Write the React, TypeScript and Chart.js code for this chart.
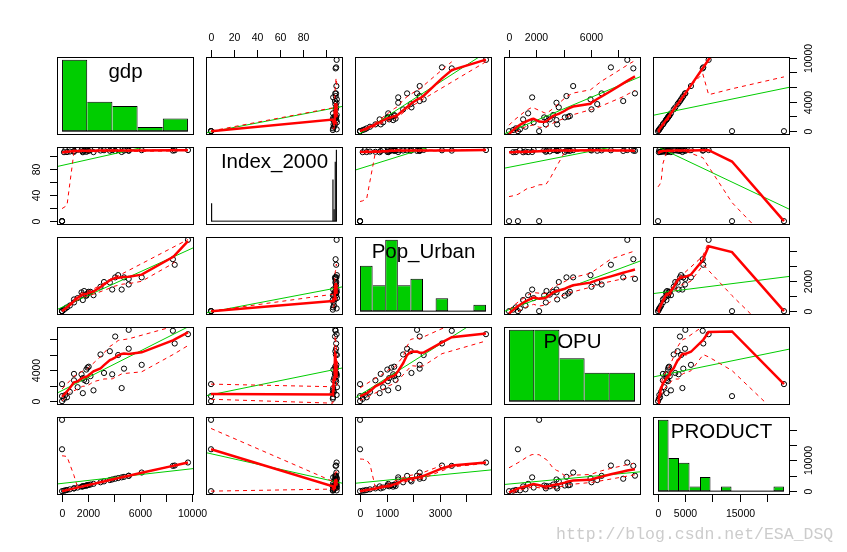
import React, { useEffect, useRef } from "react";
import { Chart, registerables } from "chart.js";

Chart.register(...registerables);

// ---------------- data: 34 observations ----------------
const varNames = ["gdp", "Index_2000", "Pop_Urban", "POPU", "PRODUCT"];

const gdp = [9690, 8670, 8530, 6130, 5130, 5130, 4770, 4590, 4320, 4090, 3860, 3680, 3230, 2960, 2420, 2190, 2050, 1960, 1870, 1870, 1700, 1600, 1600, 1500, 920, 920, 1200, 600, 380, 250, 150, 0, 0, 0];
const index2000 = [109.6, 109.2, 108.7, 109.4, 108.4, 109.1, 108.8, 106.6, 109.8, 108.2, 109.5, 108.5, 109.3, 108.9, 106.4, 109.7, 108.3, 108.95, 106.8, 109.2, 108.6, 107.5, 106.2, 109.4, 108.1, 106.9, 109.9, 107.3, 106.5, 109.6, 106.3, 0, 0, 0];
const popUrban = [4750, 3090, 3460, 2250, 2150, 1775, 2250, 1440, 2400, 2250, 1440, 1910, 1940, 1625, 1063, 1290, 1290, 1180, 1030, 1050, 1340, 1100, 740, 1250, 780, 580, 870, 375, 250, 180, 100, 0, 0, 0];
const popu = [8650, 7450, 9090, 4690, 9210, 6770, 4200, 1690, 5960, 8350, 3470, 6450, 3640, 6030, 1395, 3230, 4450, 4330, 4080, 2570, 2740, 2980, 1030, 3470, 3520, 2690, 1800, 1200, 500, 800, 300, 0, 650, 2200];
const product = [9300, 8320, 8210, 6050, 5020, 4960, 4640, 4480, 4240, 4030, 3790, 3600, 3170, 2880, 2370, 2150, 2020, 1910, 1830, 1820, 1660, 1570, 1550, 1460, 900, 890, 1170, 580, 370, 240, 150, 0, 13600, 23150];

// histogram breaks: [from, to, by]
const gdpBreaks = [0, 10000, 2000];
const indexBreaks = [0, 110, 1];
const popUrbanBreaks = [0, 5000, 500];
const popuBreaks = [0, 10000, 2000];
const productBreaks = [0, 24000, 2000];

// axis ticks and the labels R printed
const gdpTicks = [0, 2000, 4000, 6000, 8000, 10000];
const gdpXLabels = ["0", "2000", "", "6000", "", "10000"];
const gdpYLabels = ["0", "", "4000", "", "", "10000"];
const indexTicks = [0, 20, 40, 60, 80, 100];
const indexXLabels = ["0", "20", "40", "60", "80", ""];
const indexYLabels = ["0", "", "40", "", "80", ""];
const popUrbanTicks = [0, 1000, 2000, 3000, 4000];
const popUrbanXLabels = ["0", "1000", "", "3000", ""];
const popUrbanYLabels = ["0", "", "2000", "", ""];
const popuTicks = [0, 2000, 4000, 6000, 8000];
const popuXLabels = ["0", "2000", "", "6000", ""];
const popuYLabels = ["0", "", "4000", "", ""];
const productTicks = [0, 5000, 10000, 15000, 20000];
const productXLabels = ["0", "5000", "", "15000", ""];
const productYLabels = ["0", "", "10000", "", ""];

const VARS = [gdp, index2000, popUrban, popu, product];
const BREAKS = [gdpBreaks, indexBreaks, popUrbanBreaks, popuBreaks, productBreaks];
const TICKS = [gdpTicks, indexTicks, popUrbanTicks, popuTicks, productTicks];
const XLABELS = [gdpXLabels, indexXLabels, popUrbanXLabels, popuXLabels, productXLabels];
const YLABELS = [gdpYLabels, indexYLabels, popUrbanYLabels, popuYLabels, productYLabels];

// ---------------- layout / style ----------------
const PANEL_LEFT = [57, 206, 355, 504, 653];
const PANEL_TOP = [57, 147, 237, 327, 417];
const PW = 136;
const PH = 77;
const M = 45;
const GREEN = "#00CD00";
const RED = "#FF0000";
const TICK_FONT = "10.5px 'Liberation Sans', Arial, sans-serif";
const LABEL_FONT = "20.5px 'Liberation Sans', Arial, sans-serif";
const SMOOTH_DEGREE = 2;
const SPREAD_ITER = 1;

// ---------------- statistics ----------------
function padRange(lo: number, hi: number) {
  const d = hi - lo || 1;
  return [lo - 0.04 * d, hi + 0.04 * d];
}
function varRange(v: number[]) {
  return padRange(Math.min(...v), Math.max(...v));
}
function median(a: number[]) {
  const s = a.slice().sort((p, q) => p - q);
  const n = s.length;
  if (!n) return 0;
  return n % 2 ? s[(n - 1) / 2] : (s[n / 2 - 1] + s[n / 2]) / 2;
}

function solve(A: number[][], b: number[]): number[] | null {
  const n = b.length;
  const m = A.map((row, i) => row.concat([b[i]]));
  for (let c = 0; c < n; c++) {
    let p = c;
    for (let r = c + 1; r < n; r++) if (Math.abs(m[r][c]) > Math.abs(m[p][c])) p = r;
    if (Math.abs(m[p][c]) < 1e-9) return null;
    [m[c], m[p]] = [m[p], m[c]];
    for (let r = 0; r < n; r++) {
      if (r === c) continue;
      const f = m[r][c] / m[c][c];
      for (let k = c; k <= n; k++) m[r][k] -= f * m[c][k];
    }
  }
  return m.map((row, i) => row[n] / row[i]);
}

function localFit(xs: number[], ys: number[], w: number[], x0: number, h: number, degree: number): number {
  const n = xs.length;
  const s = h > 0 ? h : 1;
  for (let d = degree; d >= 0; d--) {
    const k = d + 1;
    const A = Array.from({ length: k }, () => new Array(k).fill(0));
    const b = new Array(k).fill(0);
    for (let j = 0; j < n; j++) {
      if (!w[j]) continue;
      const t = (xs[j] - x0) / s;
      const pw = [1, t, t * t];
      for (let p = 0; p < k; p++) {
        b[p] += w[j] * pw[p] * ys[j];
        for (let q = 0; q < k; q++) A[p][q] += w[j] * pw[p] * pw[q];
      }
    }
    const sol = solve(A, b);
    if (sol) return sol[0];
  }
  return 0;
}

function loess(xs: number[], ys: number[], span: number, degree: number, iterations: number): number[] {
  const n = xs.length;
  const q = Math.min(n, Math.max(1, Math.floor(span * n)));
  let robust = new Array(n).fill(1);
  let fit = new Array(n).fill(0);
  for (let it = 0; it < iterations; it++) {
    const nf = new Array(n).fill(0);
    for (let i = 0; i < n; i++) {
      const x0 = xs[i];
      const dist = xs.map((v) => Math.abs(v - x0));
      const h = dist.slice().sort((a, b) => a - b)[q - 1];
      const kern = dist.map((d) => {
        if (h <= 0) return d === 0 ? 1 : 0;
        const u = d / h;
        if (u >= 0.999) return 0;
        if (u <= 0.001) return 1;
        return Math.pow(1 - u * u * u, 3);
      });
      let w = kern.map((k, j) => k * robust[j]);
      if (w.reduce((a, b) => a + b, 0) <= 0) w = kern;
      nf[i] = localFit(xs, ys, w, x0, h, degree);
    }
    fit = nf;
    if (it === iterations - 1) break;
    const res = ys.map((y, j) => y - fit[j]);
    const cmad = 6 * median(res.map(Math.abs));
    if (cmad <= 1e-12) { robust = new Array(n).fill(1); continue; }
    robust = res.map((r) => {
      const a = Math.abs(r);
      if (a > 0.999 * cmad) return 0;
      if (a <= 0.001 * cmad) return 1;
      const u = a / cmad;
      return Math.pow(1 - u * u, 2);
    });
  }
  return fit;
}

function histCounts(v: number[], br: number[]) {
  const [from, to, by] = br;
  const nb = Math.round((to - from) / by);
  const counts = new Array(nb).fill(0);
  v.forEach((x) => {
    let k = x <= from ? 0 : Math.ceil((x - from) / by) - 1;
    k = Math.max(0, Math.min(nb - 1, k));
    counts[k]++;
  });
  return counts;
}

// ---------------- decoration plugin ----------------
type AxisCfg = { side: string; scale: string; ticks: number[]; labels: string[]; map?: (v: number) => number };

function decorPlugin(axes: AxisCfg[], label: string | null) {
  return {
    id: "decor",
    afterDraw(chart: any) {
      const ctx = chart.ctx;
      const a = chart.chartArea;
      const L = Math.round(a.left), T = Math.round(a.top), R = Math.round(a.right), B = Math.round(a.bottom);
      ctx.save();
      if (label) {
        ctx.fillStyle = "#000";
        ctx.font = LABEL_FONT;
        ctx.textAlign = "center";
        ctx.textBaseline = "alphabetic";
        ctx.fillText(label, (L + R) / 2 + 0.5, T + 20.5);
      }
      ctx.strokeStyle = "#000";
      ctx.lineWidth = 1;
      ctx.strokeRect(L + 0.5, T + 0.5, R - L, B - T);
      ctx.fillStyle = "#000";
      ctx.font = TICK_FONT;
      ctx.textAlign = "center";
      ctx.textBaseline = "middle";
      axes.forEach((ax) => {
        const s = chart.scales[ax.scale];
        ax.ticks.forEach((v, i) => {
          const val = ax.map ? ax.map(v) : v;
          const p = Math.round(s.getPixelForValue(val)) + 0.5;
          const txt = ax.labels[i];
          ctx.beginPath();
          if (ax.side === "top") {
            ctx.moveTo(p, T); ctx.lineTo(p, T - 7); ctx.stroke();
            if (txt) ctx.fillText(txt, p, T - 19);
          } else if (ax.side === "bottom") {
            ctx.moveTo(p, B + 1); ctx.lineTo(p, B + 8); ctx.stroke();
            if (txt) ctx.fillText(txt, p, B + 20);
          } else if (ax.side === "left") {
            ctx.moveTo(L, p); ctx.lineTo(L - 7, p); ctx.stroke();
            if (txt) { ctx.save(); ctx.translate(L - 20, p); ctx.rotate(-Math.PI / 2); ctx.fillText(txt, 0, 0); ctx.restore(); }
          } else {
            ctx.moveTo(R + 1, p); ctx.lineTo(R + 8, p); ctx.stroke();
            if (txt) { ctx.save(); ctx.translate(R + 20, p); ctx.rotate(-Math.PI / 2); ctx.fillText(txt, 0, 0); ctx.restore(); }
          }
        });
      });
      ctx.restore();
    },
  };
}

function axesFor(r: number, c: number, mapX?: (v: number) => number, mapY?: (v: number) => number): AxisCfg[] {
  const out: AxisCfg[] = [];
  if (r === 0 && c % 2 === 1) out.push({ side: "top", scale: "x", ticks: TICKS[c], labels: XLABELS[c], map: mapX });
  if (r === 4 && c % 2 === 0) out.push({ side: "bottom", scale: "x", ticks: TICKS[c], labels: XLABELS[c], map: mapX });
  if (c === 0 && r % 2 === 1) out.push({ side: "left", scale: "y", ticks: TICKS[r], labels: YLABELS[r], map: mapY });
  if (c === 4 && r % 2 === 0) out.push({ side: "right", scale: "y", ticks: TICKS[r], labels: YLABELS[r], map: mapY });
  return out;
}

const baseOptions = {
  animation: false as const,
  responsive: false,
  events: [] as any[],
  layout: { padding: { left: M, right: M, top: M, bottom: M } },
  plugins: { legend: { display: false }, tooltip: { enabled: false } },
};

function scatterConfig(r: number, c: number): any {
  const xv = VARS[c];
  const yv = VARS[r];
  const [xmin, xmax] = varRange(xv);
  const [ymin, ymax] = varRange(yv);
  const ord = xv.map((_, i) => i).sort((a, b) => xv[a] - xv[b]);
  const sx = ord.map((i) => xv[i]);
  const sy = ord.map((i) => yv[i]);
  const fit = loess(sx, sy, 0.5, SMOOTH_DEGREE, 4);
  const res = sy.map((y, i) => y - fit[i]);
  const posIdx = res.map((v, i) => (v > 0 ? i : -1)).filter((i) => i >= 0);
  const negIdx = res.map((v, i) => (v > 0 ? -1 : i)).filter((i) => i >= 0);
  const spreadLine = (idx: number[], sign: number) => {
    if (idx.length < 2) return [];
    const f2 = loess(idx.map((i) => sx[i]), idx.map((i) => res[i] * res[i]), 0.5, 0, SPREAD_ITER);
    return idx.map((i, k) => ({ x: sx[i], y: fit[i] + sign * Math.sqrt(Math.max(0, f2[k])) }));
  };
  const n = xv.length;
  const mx = xv.reduce((a, b) => a + b, 0) / n;
  const my = yv.reduce((a, b) => a + b, 0) / n;
  let sxx = 0, sxy = 0;
  for (let i = 0; i < n; i++) { sxx += (xv[i] - mx) ** 2; sxy += (xv[i] - mx) * (yv[i] - my); }
  const b = sxx ? sxy / sxx : 0;
  const a0 = my - b * mx;

  const lineDs = (data: any[], color: string, width: number, dash: number[]) => ({
    data, showLine: true, borderColor: color, borderWidth: width, borderDash: dash,
    pointRadius: 0, fill: false, tension: 0,
  });

  return {
    type: "scatter",
    data: {
      datasets: [
        lineDs(sx.map((x, i) => ({ x, y: fit[i] })), RED, 2.5, []),
        lineDs(spreadLine(posIdx, 1), RED, 1, [4, 4]),
        lineDs(spreadLine(negIdx, -1), RED, 1, [4, 4]),
        lineDs([{ x: xmin, y: a0 + b * xmin }, { x: xmax, y: a0 + b * xmax }], GREEN, 1, []),
        {
          data: xv.map((x, i) => ({ x, y: yv[i] })),
          showLine: false,
          pointRadius: 2.6,
          pointBorderWidth: 1,
          pointBorderColor: "#000",
          pointBackgroundColor: "rgba(0,0,0,0)",
        },
      ],
    },
    options: {
      ...baseOptions,
      scales: {
        x: { type: "linear", display: false, min: xmin, max: xmax },
        y: { type: "linear", display: false, min: ymin, max: ymax },
      },
    },
    plugins: [decorPlugin(axesFor(r, c), null)],
  };
}

function diagConfig(k: number): any {
  const v = VARS[k];
  const br = BREAKS[k];
  const counts = histCounts(v, br);
  const [from, to, by] = br;
  const [hx0, hx1] = padRange(from, to);
  const mc = Math.max(...counts);
  const [vx0, vx1] = varRange(v);
  const edges = counts.map((_, i) => from + i * by).concat([to]);
  const thin = (by / (hx1 - hx0)) * PW < 3;
  const bw = (ctx: any) => {
    const i = ctx.dataIndex;
    const h = counts[i];
    if (!h || thin) return 0;
    const prev = i > 0 ? counts[i - 1] : 0;
    const next = i < counts.length - 1 ? counts[i + 1] : 0;
    return { top: 1, bottom: 1, left: h > prev ? 1 : 0, right: h >= next ? 1 : 0 };
  };
  const mapX = (x: number) => hx0 + ((x - vx0) / (vx1 - vx0)) * (hx1 - hx0);
  const mapY = (y: number) => -0.04 * mc + ((y - vx0) / (vx1 - vx0)) * (1.08 * mc);
  return {
    type: "bar",
    data: {
      datasets: [
        {
          type: "line",
          data: [{ x: from, y: 0 }, { x: to, y: 0 }],
          borderColor: "#000", borderWidth: 1, pointRadius: 0, fill: false,
        },
        {
          data: counts.map((c, i) => ({ x: from + (i + 0.5) * by, y: c })),
          backgroundColor: thin ? "#000" : GREEN,
          borderColor: "#000",
          borderWidth: bw,
          borderSkipped: false,
          inflateAmount: 0,
          barPercentage: 1,
          categoryPercentage: 1,
        },
      ],
    },
    options: {
      ...baseOptions,
      scales: {
        x: {
          type: "linear", display: false, min: hx0, max: hx1, offset: false,
          afterBuildTicks: (s: any) => { s.ticks = edges.map((e) => ({ value: e })); },
        },
        y: { type: "linear", display: false, min: -0.04 * mc, max: 1.04 * mc },
      },
    },
    plugins: [decorPlugin(axesFor(k, k, mapX, mapY), varNames[k])],
  };
}

function Panel({ r, c }: { r: number; c: number }) {
  const ref = useRef<HTMLCanvasElement>(null);
  useEffect(() => {
    if (!ref.current) return;
    const chart = new Chart(ref.current, r === c ? diagConfig(r) : scatterConfig(r, c));
    return () => chart.destroy();
  }, [r, c]);
  const w = PW + 2 * M;
  const h = PH + 2 * M;
  return (
    <canvas
      ref={ref}
      width={w}
      height={h}
      style={{ position: "absolute", left: PANEL_LEFT[c] - M, top: PANEL_TOP[r] - M, width: w, height: h }}
    />
  );
}

export default function App() {
  const cells: React.ReactNode[] = [];
  for (let r = 0; r < 5; r++) for (let c = 0; c < 5; c++) cells.push(<Panel key={`${r}-${c}`} r={r} c={c} />);
  return (
    <div style={{ position: "absolute", left: 0, top: 0, width: 847, height: 552, background: "#fff", overflow: "hidden" }}>
      {cells}
      <div
        style={{
          position: "absolute", left: 556, top: 525, fontFamily: "'Liberation Mono', 'Courier New', monospace",
          fontSize: "16.5px", color: "#cccccc", whiteSpace: "nowrap", lineHeight: "20px",
        }}
      >
        http://blog.csdn.net/ESA_DSQ
      </div>
    </div>
  );
}
